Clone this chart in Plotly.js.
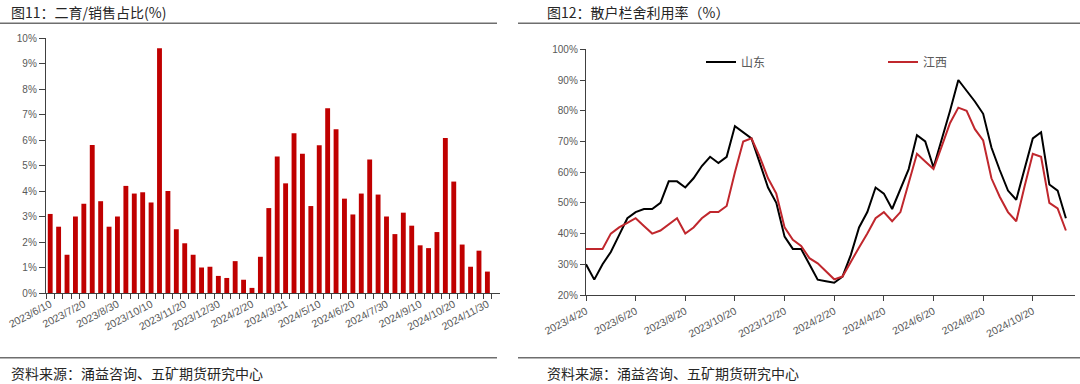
<!DOCTYPE html>
<html>
<head>
<meta charset="utf-8">
<script src="https://cdn.plot.ly/plotly-3.0.1.min.js"></script>
<style>html,body{margin:0;padding:0;background:#fff;}#chart{width:1080px;height:384px;}</style>
</head>
<body>
<div id="chart"></div>
<script>
// ---------- Left chart: 二育/销售占比 ----------
const leftCategories = [
  "2023/6/10","2023/6/20","2023/6/30","2023/7/10","2023/7/20","2023/7/31",
  "2023/8/10","2023/8/20","2023/8/30","2023/9/10","2023/9/20","2023/9/30",
  "2023/10/10","2023/10/20","2023/10/31","2023/11/10","2023/11/20","2023/11/30",
  "2023/12/10","2023/12/20","2023/12/30","2024/1/10","2024/1/20","2024/1/31",
  "2024/2/20","2024/2/29","2024/3/10","2024/3/20","2024/3/31",
  "2024/4/10","2024/4/20","2024/4/30","2024/5/10","2024/5/20","2024/5/31",
  "2024/6/10","2024/6/20","2024/6/30","2024/7/10","2024/7/20","2024/7/30",
  "2024/8/10","2024/8/20","2024/8/31","2024/9/10","2024/9/20","2024/9/30",
  "2024/10/10","2024/10/20","2024/10/31","2024/11/10","2024/11/20","2024/11/30"
];
const leftValues = [
  3.1, 2.6, 1.5, 3.0, 3.5, 5.8,
  3.6, 2.6, 3.0, 4.2, 3.9, 3.95,
  3.55, 9.6, 4.0, 2.5, 1.95, 1.5,
  1.0, 1.03, 0.67, 0.59, 1.25, 0.52,
  0.2, 1.42, 3.33, 5.35, 4.3,
  6.26, 5.46, 3.41, 5.79, 7.25, 6.42,
  3.7, 3.08, 3.9, 5.24, 3.86, 3.0,
  2.31, 3.15, 2.64, 1.87, 1.76, 2.39,
  6.08, 4.37, 1.9, 1.03, 1.66, 0.84
];
const leftTickLabels = [
  "2023/6/10","2023/7/20","2023/8/30","2023/10/10","2023/11/20","2023/12/30",
  "2024/2/20","2024/3/31","2024/5/10","2024/6/20","2024/7/30","2024/9/10",
  "2024/10/20","2024/11/30"
];

// ---------- Right chart: 散户栏舍利用率 ----------
const rightCategories = [
  "2023/4/20","2023/4/30","2023/5/10","2023/5/20","2023/5/31",
  "2023/6/10","2023/6/20","2023/6/30","2023/7/10","2023/7/20","2023/7/31",
  "2023/8/10","2023/8/20","2023/8/31","2023/9/10","2023/9/20","2023/9/30",
  "2023/10/10","2023/10/20","2023/10/31","2023/11/10","2023/11/20","2023/11/30",
  "2023/12/10","2023/12/20","2023/12/31","2024/1/10","2024/1/20","2024/1/31",
  "2024/2/10","2024/2/20","2024/2/29","2024/3/10","2024/3/20","2024/3/31",
  "2024/4/10","2024/4/20","2024/4/30","2024/5/10","2024/5/20","2024/5/31",
  "2024/6/10","2024/6/20","2024/6/30","2024/7/10","2024/7/20","2024/7/31",
  "2024/8/10","2024/8/20","2024/8/31","2024/9/10","2024/9/20","2024/9/30",
  "2024/10/10","2024/10/20","2024/10/31","2024/11/10","2024/11/20","2024/11/30"
];
const shandong = [
  30, 25, 30, 34, 39.5,
  45, 47, 48, 48, 50, 57,
  57, 55, 58, 62, 65, 63,
  65, 75, 73, 71, 63, 55,
  50, 39, 35, 35, 30, 25,
  24.5, 24, 26, 33, 42, 47,
  55, 53, 48, 54.5, 61, 72,
  70, 61.5, 70.5, 80, 90, 86.5,
  83, 79, 68, 60.7, 54, 51,
  61, 71, 73, 56, 54, 45
];
const jiangxi = [
  35, 35, 35, 40, 42,
  43.5, 45, 42.5, 40, 41, 43,
  45, 40, 42, 45, 47, 47,
  49, 60, 70, 71, 65, 58,
  53, 42, 38, 36, 32, 30.3,
  27.6, 25.1, 26, 31, 35.5, 40,
  45, 47, 44, 47, 56.5, 66,
  63.5, 61, 68.5, 76, 81, 80,
  74, 70.3, 58, 52, 47, 44,
  55.3, 66, 65, 50, 48.2, 41
];
const rightTickLabels = [
  "2023/4/20","2023/6/20","2023/8/20","2023/10/20","2023/12/20",
  "2024/2/20","2024/4/20","2024/6/20","2024/8/20","2024/10/20"
];
const seriesNames = ["山东", "江西"];

// ---------- Drawing ----------
const W = 1080, H = 384;
const px = v => v / W;
const py = v => 1 - v / H;
const tickGray = "#595959";
const axisColor = "#404040";
const latin = "Liberation Sans, Arial, sans-serif";
const cjk = "Noto Sans CJK SC, sans-serif";

const leftTickText = leftCategories.map(c => leftTickLabels.includes(c) ? c : "");

const traces = [
  {
    type: "bar", x: leftCategories, y: leftValues, xaxis: "x", yaxis: "y",
    marker: {color: "#C00000", line: {width: 0}}, showlegend: false, hoverinfo: "skip"
  },
  {
    type: "scatter", mode: "lines", name: seriesNames[0], x: rightCategories, y: shandong,
    xaxis: "x2", yaxis: "y2", line: {color: "#000000", width: 2}, legend: "legend"
  },
  {
    type: "scatter", mode: "lines", name: seriesNames[1], x: rightCategories, y: jiangxi,
    xaxis: "x2", yaxis: "y2", line: {color: "#C0272D", width: 2}, legend: "legend2"
  }
];

const legendCommon = {
  orientation: "h", yanchor: "middle", xanchor: "left",
  font: {family: cjk, size: 12, color: tickGray},
  bgcolor: "rgba(0,0,0,0)", borderwidth: 0, itemwidth: 30
};

const layout = {
  width: W, height: H,
  margin: {l: 0, r: 0, t: 0, b: 0},
  paper_bgcolor: "#ffffff", plot_bgcolor: "rgba(0,0,0,0)",
  bargap: 0.42,
  showlegend: true,
  legend: Object.assign({x: px(701), y: py(62)}, legendCommon),
  legend2: Object.assign({x: px(883), y: py(62)}, legendCommon),
  xaxis: {
    domain: [px(46), px(500)], anchor: "y", type: "category",
    categoryorder: "array", categoryarray: leftCategories,
    range: [-0.5, 53.5],
    tickmode: "array", tickvals: leftCategories, ticktext: leftTickText,
    tickson: "boundaries", ticks: "outside", ticklen: 5, tickwidth: 1, tickcolor: axisColor,
    showline: true, linecolor: axisColor, linewidth: 1.2,
    showgrid: false, zeroline: false, tickangle: -28,
    tickfont: {family: latin, size: 10.5, color: tickGray}, fixedrange: true
  },
  yaxis: {
    domain: [1 - 293 / H, 1 - 38 / H], anchor: "x",
    range: [0, 10], tickmode: "linear", tick0: 0, dtick: 1, ticksuffix: "%",
    ticks: "outside", ticklen: 6, tickwidth: 1, tickcolor: axisColor,
    showline: true, linecolor: axisColor, linewidth: 1.2,
    showgrid: false, zeroline: false,
    tickfont: {family: latin, size: 10, color: tickGray}, fixedrange: true
  },
  xaxis2: {
    domain: [px(586), px(1075)], anchor: "y2", type: "category",
    categoryorder: "array", categoryarray: rightCategories,
    range: [0, 59.1],
    tickmode: "array", tickvals: rightTickLabels, ticktext: rightTickLabels,
    ticks: "outside", ticklen: 5, tickwidth: 1, tickcolor: axisColor,
    showline: true, linecolor: axisColor, linewidth: 1.2,
    showgrid: false, zeroline: false, tickangle: -28,
    tickfont: {family: latin, size: 10.5, color: tickGray}, fixedrange: true
  },
  yaxis2: {
    domain: [1 - 295 / H, 1 - 49.3 / H], anchor: "x2",
    range: [20, 100], tickmode: "linear", tick0: 20, dtick: 10, ticksuffix: "%",
    ticks: "outside", ticklen: 5, tickwidth: 1, tickcolor: axisColor,
    showline: true, linecolor: axisColor, linewidth: 1.2,
    showgrid: false, zeroline: false,
    tickfont: {family: latin, size: 10, color: tickGray}, fixedrange: true
  },
  shapes: [
    {type: "line", xref: "paper", yref: "paper", x0: 0, x1: px(497), y0: py(23.3), y1: py(23.3), line: {color: "#6e6e6e", width: 1.5}},
    {type: "line", xref: "paper", yref: "paper", x0: px(518), x1: 1, y0: py(23.3), y1: py(23.3), line: {color: "#6e6e6e", width: 1.5}},
    {type: "line", xref: "paper", yref: "paper", x0: 0, x1: px(497), y0: py(357.7), y1: py(357.7), line: {color: "#6e6e6e", width: 1.5}},
    {type: "line", xref: "paper", yref: "paper", x0: px(518), x1: 1, y0: py(357.7), y1: py(357.7), line: {color: "#6e6e6e", width: 1.5}}
  ],
  annotations: [
    {text: "图11：二育/销售占比(%)", xref: "paper", yref: "paper", x: px(9), y: py(12), xanchor: "left", yanchor: "middle", showarrow: false, font: {family: cjk, size: 14, color: "#262626"}},
    {text: "图12：散户栏舍利用率（%）", xref: "paper", yref: "paper", x: px(545), y: py(12), xanchor: "left", yanchor: "middle", showarrow: false, font: {family: cjk, size: 14, color: "#262626"}},
    {text: "资料来源：涌益咨询、五矿期货研究中心", xref: "paper", yref: "paper", x: px(9), y: py(373), xanchor: "left", yanchor: "middle", showarrow: false, font: {family: cjk, size: 14, color: "#262626"}},
    {text: "资料来源：涌益咨询、五矿期货研究中心", xref: "paper", yref: "paper", x: px(545), y: py(373), xanchor: "left", yanchor: "middle", showarrow: false, font: {family: cjk, size: 14, color: "#262626"}}
  ]
};

Plotly.newPlot("chart", traces, layout, {displayModeBar: false, staticPlot: true});
</script>
</body>
</html>
